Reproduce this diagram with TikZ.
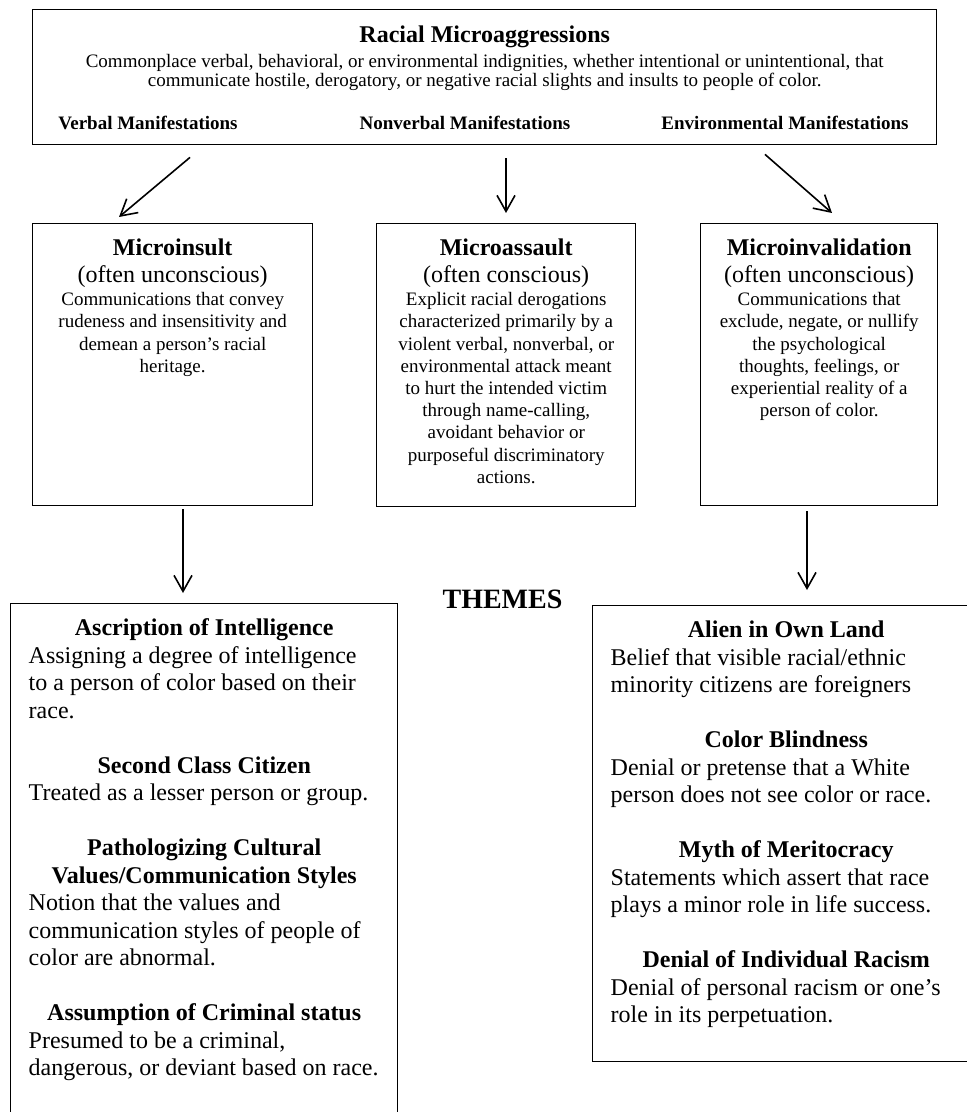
\documentclass[tikz,border=0pt]{standalone}
\usepackage{fontspec}
\setmainfont{Liberation Serif}
\usetikzlibrary{arrows.meta}

% fixed-size box body, text hangs from the top
\newcommand{\boxbody}[3]{\parbox[c][#2][t]{#1}{#3}}
\newcommand{\themehead}[1]{{\centering\bfseries #1\par}}
\newcommand{\desctext}{\vspace{0.4pt}\fontsize{9.5}{11.1}\selectfont}
\newcommand{\themebody}{\raggedright\leftskip=4.25pt\fontsize{12}{13.75}\selectfont}

\begin{document}
\begin{tikzpicture}[x=0.5pt, y=-0.5pt,
        frame/.style = {draw=black, line width=0.7pt, inner sep=0pt, anchor=north west},
        catbox/.style = {frame, font=\fontsize{12}{13.5}\selectfont},
        themebox/.style = {frame, inner xsep=4.75pt},
        manif/.style = {anchor=base, font=\bfseries\fontsize{9.5}{11}\selectfont},
        >={Straight Barb[length=8pt,width=9pt]},
        arr/.style = {->, line width=0.8pt}
        ]

    \useasboundingbox (0,0) rectangle (966,1112);

    % top box
    \node (top) at (32,9) [frame] {\boxbody{452pt}{67.5pt}{\centering
        \rule{0pt}{16.5pt}{\bfseries\fontsize{12}{13.8}\selectfont Racial Microaggressions}\par
        \vspace{2.35pt}\fontsize{9.5}{9.15}\selectfont
        Commonplace verbal, behavioral, or environmental indignities, whether intentional or unintentional, that\\
        communicate hostile, derogatory, or negative racial slights and insults to people of color.\par}};
    \node (verbal) at (148,130)    [manif] {Verbal Manifestations};
    \node (nonverbal) at (465,130) [manif] {Nonverbal Manifestations};
    \node (environ) at (785,130)   [manif] {Environmental Manifestations};

    % the three kinds
    \node (insult) at (32,223) [catbox] {\boxbody{140pt}{141pt}{\centering
        \rule{0pt}{16pt}\textbf{Microinsult}\par
        (often unconscious)\par
        \desctext Communications that convey\\ rudeness and insensitivity and\\ demean a person’s racial\\ heritage.\par}};
    \node (assault) at (376,223) [catbox] {\boxbody{129.5pt}{141.5pt}{\centering
        \rule{0pt}{16pt}\textbf{Microassault}\par
        (often conscious)\par
        \desctext Explicit racial derogations\\ characterized primarily by a\\ violent verbal, nonverbal, or\\
        environmental attack meant\\ to hurt the intended victim\\ through name-calling,\\
        avoidant behavior or\\ purposeful discriminatory\\ actions.\par}};
    \node (invalid) at (700,223) [catbox] {\boxbody{118.5pt}{141pt}{\centering
        \rule{0pt}{16pt}\textbf{Microinvalidation}\par
        (often unconscious)\par
        \desctext Communications that\\ exclude, negate, or nullify\\ the psychological\\
        thoughts, feelings, or\\ experiential reality of a\\ person of color.\par}};

    \node (themes) at (502.5,608) [anchor=base, font=\bfseries\fontsize{14}{16}\selectfont] {THEMES};

    % theme boxes
    \node (insultthemes) at (10,603) [themebox] {\boxbody{184pt}{262pt}{\themebody
        \themehead{\rule{0pt}{16pt}Ascription of Intelligence}
        Assigning a degree of intelligence\\ to a person of color based on their\\ race.\par
        \vspace{\baselineskip}
        \themehead{Second Class Citizen}
        Treated as a lesser person or group.\par
        \vspace{\baselineskip}
        \themehead{Pathologizing Cultural\\ Values/Communication Styles}
        Notion that the values and\\ communication styles of people of\\ color are abnormal.\par
        \vspace{\baselineskip}
        \themehead{Assumption of Criminal status}
        Presumed to be a criminal,\\ dangerous, or deviant based on race.\par}};
    \node (invalidthemes) at (592,605) [themebox] {\boxbody{184pt}{228pt}{\themebody
        \themehead{\rule{0pt}{16pt}Alien in Own Land}
        Belief that visible racial/ethnic\\ minority citizens are foreigners\par
        \vspace{\baselineskip}
        \themehead{Color Blindness}
        Denial or pretense that a White\\ person does not see color or race.\par
        \vspace{\baselineskip}
        \themehead{Myth of Meritocracy}
        Statements which assert that race\\ plays a minor role in life success.\par
        \vspace{\baselineskip}
        \themehead{Denial of Individual Racism}
        Denial of personal racism or one’s\\ role in its perpetuation.\par}};

    % arrows
    \draw[arr] ([xshift=79pt,yshift=-6pt]top.south west) -- ([xshift=43.5pt,yshift=3pt]insult.north west);
    \draw[arr] ([xshift=237pt,yshift=-6.5pt]top.south west) -- ([xshift=65pt,yshift=5pt]assault.north west);
    \draw[arr] ([xshift=366.5pt,yshift=-4.5pt]top.south west) -- ([xshift=66pt,yshift=5pt]invalid.north west);
    \draw[arr] ([xshift=75.5pt,yshift=-1.5pt]insult.south west) -- ([xshift=86.5pt,yshift=5pt]insultthemes.north west);
    \draw[arr] ([xshift=53.5pt,yshift=-2.5pt]invalid.south west) -- ([xshift=107.5pt,yshift=7.5pt]invalidthemes.north west);

\end{tikzpicture}
\end{document}
